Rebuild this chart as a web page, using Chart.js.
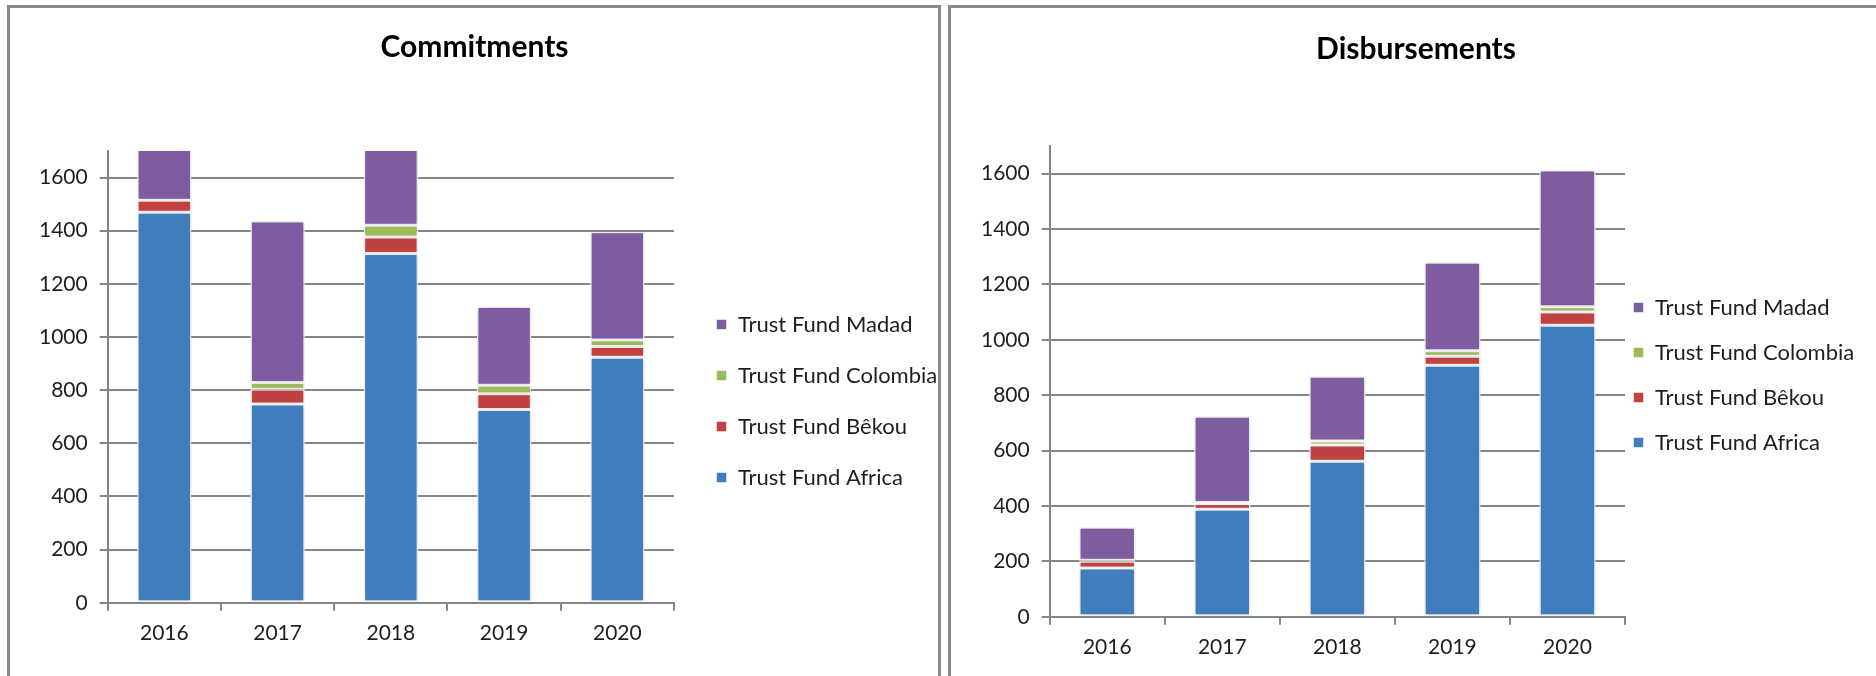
<!DOCTYPE html>
<html>
<head>
<meta charset="utf-8">
<title>Trust Funds</title>
<script src="https://cdn.jsdelivr.net/npm/chart.js@4.4.1/dist/chart.umd.min.js"></script>
<style>
  html, body { margin: 0; padding: 0; background: #fff; overflow: hidden; }
  body { width: 1876px; height: 676px; position: relative; }
  .panel { position: absolute; border: 3px solid #8a8a8a; background: #fff; }
  #leftPanel { left: 7px; top: 5px; width: 928px; height: 720px; }
  #rightPanel { left: 948px; top: 5px; width: 960px; height: 720px; }
  canvas { position: absolute; left: 0; top: 0; }
</style>
</head>
<body>
<div class="panel" id="leftPanel"><canvas id="commitChart" width="928" height="668"></canvas></div>
<div class="panel" id="rightPanel"><canvas id="disbChart" width="925" height="668"></canvas></div>
<script>
// years on the x axis
const years = ['2016', '2017', '2018', '2019', '2020'];
const fundNames = ['Trust Fund Africa', 'Trust Fund Bêkou', 'Trust Fund Colombia', 'Trust Fund Madad'];
const fundColors = ['#407dbc', '#c0413f', '#9bbb59', '#7d5ca0'];

// commitments (EUR million)
const africaCommit = [1470, 748, 1314, 727, 924];
const bekouCommit = [45, 56, 62, 60, 40];
const colombiaCommit = [0, 25, 45, 32, 25];
const madadCommit = [260, 608, 340, 296, 407];

// disbursements (EUR million)
const africaDisb = [176, 388, 562, 908, 1053];
const bekouDisb = [25, 20, 58, 33, 48];
const colombiaDisb = [3, 5, 15, 20, 19];
const madadDisb = [119, 311, 234, 319, 493];

const yMax = 1700;
const yStep = 200;
const lastTick = 1600;

const gridGrey = '#868686';
const textColor = '#1e1e1e';
const fontFamily = 'Lato, "Open Sans", sans-serif';

// legend is kept 200px wide for the layout, then moved next to the plot
// and given room so the longer names are not cut off; title re-centred on the panel
const boxNudge = {
    id: 'boxNudge',
    afterLayout(chart, args, o) {
        const lg = chart.legend;
        if (lg) {
            lg.left += o.dx; lg.right += o.dx + 120; lg.width += 120;
            lg.top += o.dy; lg.bottom += o.dy;
        }
        const tb = chart.titleBlock;
        if (tb) {
            tb.left += o.titleDx; tb.right += o.titleDx;
        }
    }
};

// soft grey shadow round the bars
const barShadow = {
    id: 'barShadow',
    beforeDatasetsDraw(chart) {
        const ctx = chart.ctx;
        ctx.save();
        ctx.shadowColor = 'rgba(0,0,0,0.22)';
        ctx.shadowBlur = 4;
    },
    afterDatasetsDraw(chart) {
        chart.ctx.restore();
    }
};

function buildDatasets(seriesList) {
    return seriesList.map((values, i) => ({
        label: fundNames[i],
        data: values,
        backgroundColor: fundColors[i],
        borderColor: '#ffffff',
        borderWidth: 1.5,
        borderSkipped: false
    }));
}

function makeChart(canvasId, titleText, seriesList, opts) {
    const config = {
        type: 'bar',
        data: {
            labels: years,
            datasets: buildDatasets(seriesList)
        },
        plugins: [boxNudge, barShadow],
        options: {
            responsive: false,
            animation: false,
            devicePixelRatio: 1,
            barPercentage: opts.barPercentage,
            categoryPercentage: 1,
            layout: { padding: opts.padding },
            plugins: {
                title: {
                    display: true,
                    text: titleText,
                    color: '#000',
                    font: { family: fontFamily, size: 30, weight: 'bold' },
                    padding: { top: opts.titleTop, bottom: opts.titleGap }
                },
                legend: {
                    position: 'right',
                    reverse: true,
                    maxWidth: 200,
                    labels: {
                        boxWidth: 11,
                        boxHeight: 11,
                        padding: opts.legendGap,
                        color: textColor,
                        font: { family: fontFamily, size: 22 }
                    }
                },
                boxNudge: opts.nudge,
                tooltip: { enabled: false }
            },
            scales: {
                x: {
                    stacked: true,
                    ticks: {
                        color: textColor,
                        font: { family: fontFamily, size: 21 },
                        padding: 10
                    },
                    grid: {
                        offset: true,
                        drawOnChartArea: false,
                        color: gridGrey,
                        lineWidth: 2,
                        tickLength: 8
                    },
                    border: { color: gridGrey, width: 2 }
                },
                y: {
                    stacked: true,
                    min: 0,
                    max: yMax,
                    ticks: {
                        stepSize: yStep,
                        color: textColor,
                        font: { family: fontFamily, size: 21 },
                        padding: 12,
                        callback: (v) => v > lastTick ? '' : v
                    },
                    grid: {
                        color: (ctx) => (ctx.tick && ctx.tick.value > lastTick) ? 'rgba(0,0,0,0)' : gridGrey,
                        lineWidth: 2,
                        tickLength: 8
                    },
                    border: { color: gridGrey, width: 2 }
                }
            }
        }
    };
    return new Chart(document.getElementById(canvasId), config);
}

const commitChart = makeChart('commitChart', 'Commitments',
    [africaCommit, bekouCommit, colombiaCommit, madadCommit],
    {
        barPercentage: 0.48,
        padding: { left: 17, right: 64, bottom: 20, top: 0 },
        titleTop: 21, titleGap: 86,
        legendGap: 29,
        nudge: { dx: 13, dy: 69, titleDx: 24 }
    });

const disbChart = makeChart('disbChart', 'Disbursements',
    [africaDisb, bekouDisb, colombiaDisb, madadDisb],
    {
        barPercentage: 0.49,
        padding: { left: 18, right: 51, bottom: 6, top: 0 },
        titleTop: 23, titleGap: 79,
        legendGap: 23,
        nudge: { dx: -15, dy: 36, titleDx: 19 }
    });
</script>
</body>
</html>
